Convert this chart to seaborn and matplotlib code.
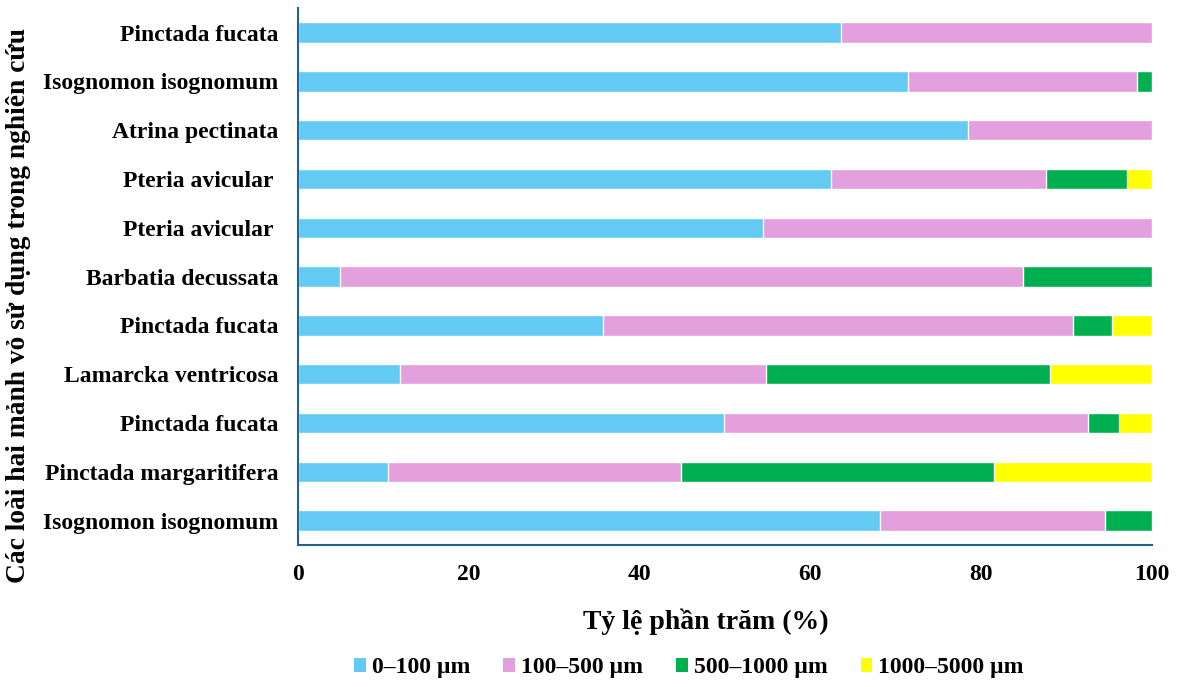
import numpy as np
import pandas as pd
import matplotlib
matplotlib.use("Agg")
import matplotlib.pyplot as plt
import seaborn as sns
from matplotlib.patches import Patch

# Species (top to bottom)
species = [
    "Pinctada fucata",
    "Isognomon isognomum",
    "Atrina pectinata",
    "Pteria avicular ",
    "Pteria avicular ",
    "Barbatia decussata",
    "Pinctada fucata",
    "Lamarcka ventricosa",
    "Pinctada fucata",
    "Pinctada margaritifera",
    "Isognomon isognomum",
]

# Share (%) of each size class per study
size_0_100 = [63.6, 71.4, 78.5, 62.4, 54.5, 4.9, 35.7, 12.0, 49.9, 10.5, 68.1]
size_100_500 = [36.4, 26.8, 21.5, 25.2, 45.5, 80.0, 55.0, 42.8, 42.6, 34.3, 26.4]
size_500_1000 = [0.0, 1.8, 0.0, 9.5, 0.0, 15.1, 4.6, 33.2, 3.6, 36.7, 5.5]
size_1000_5000 = [0.0, 0.0, 0.0, 2.9, 0.0, 0.0, 4.7, 12.0, 3.9, 18.5, 0.0]

classes = ["0–100 µm", "100–500 µm", "500–1000 µm", "1000–5000 µm"]
colors = ["#63CAF3", "#E39FDE", "#00B050", "#FFFF00"]

sns.set_theme(style="white")
plt.rcParams["font.family"] = ["Liberation Serif", "DejaVu Serif"]
plt.rcParams["font.weight"] = "bold"
plt.rcParams["text.color"] = "black"
plt.rcParams["axes.labelcolor"] = "black"
plt.rcParams["xtick.color"] = "black"
plt.rcParams["ytick.color"] = "black"

ids = [str(i) for i in range(len(species))]
df = pd.DataFrame({
    "id": ids,
    classes[0]: size_0_100,
    classes[1]: size_100_500,
    classes[2]: size_500_1000,
    classes[3]: size_1000_5000,
})
cum = df[classes].cumsum(axis=1)

fig = plt.figure(figsize=(11.84, 6.87), dpi=100)
ax = fig.add_axes([0.2517, 0.2067, 0.7213, 0.7813])

# Stacked bars: draw cumulative totals from the widest layer down
for cls, col in reversed(list(zip(classes, colors))):
    sns.barplot(x=cum[cls], y=df["id"], order=ids, color=col, width=0.42,
                saturation=1, ax=ax, orient="h")

ax.set_xlim(0, 100)
ax.set_ylim(len(species) - 0.5, -0.5)
ax.set_xticks([0, 20, 40, 60, 80, 100])
ax.set_xticklabels(["0", "20", "40", "60", "80", "100"], fontsize=17, fontweight="bold")
ax.set_yticks(range(len(species)))
ax.set_yticklabels(species, fontsize=17, fontweight="bold")
ax.tick_params(axis="both", length=0)
ax.tick_params(axis="x", pad=14)
ax.tick_params(axis="y", pad=14)

for s in ["top", "right"]:
    ax.spines[s].set_visible(False)
for s in ["left", "bottom"]:
    ax.spines[s].set_color("#1F6391")
    ax.spines[s].set_linewidth(1.5)

ax.set_xlabel("Tỷ lệ phần trăm (%)", fontsize=20, fontweight="bold")
ax.xaxis.set_label_coords(0.478, -0.119)
ax.set_ylabel("Các loài hai mảnh vỏ sử dụng trong nghiên cứu", fontsize=19.8,
              fontweight="bold")
ax.yaxis.set_label_coords(-0.313, 0.447)

handles = [Patch(facecolor=c, edgecolor="none") for c in colors]
fig.legend(handles, classes, loc="center", bbox_to_anchor=(0.582, 0.028), ncol=4,
           frameon=False, prop={"size": 17, "weight": "bold"},
           handlelength=0.5, handleheight=0.5, handletextpad=0.25, columnspacing=1.4)

fig.savefig("out.png", dpi=100)
